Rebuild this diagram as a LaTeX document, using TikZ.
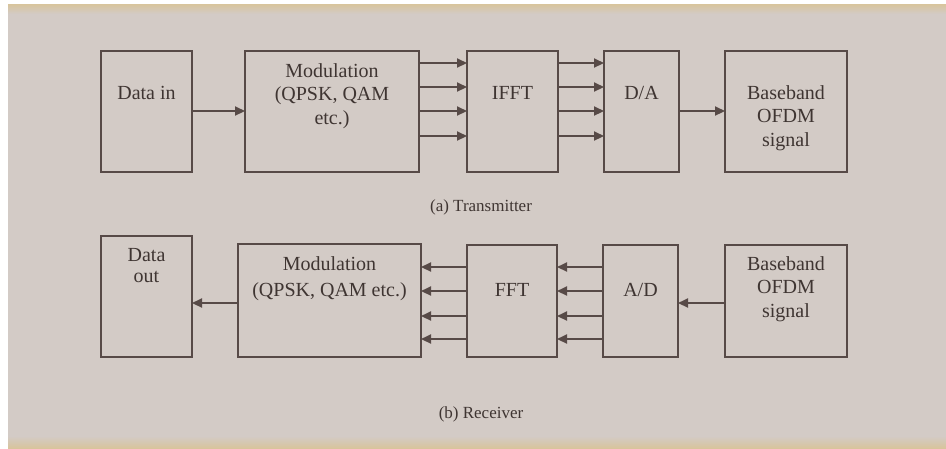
\documentclass[tikz,border=0pt]{standalone}
\usepackage{fontspec}
\setmainfont{Liberation Serif}
\usetikzlibrary{arrows.meta}
\definecolor{bgc}{HTML}{D3CBC6}
\definecolor{linec}{HTML}{574A47}
\definecolor{textc}{HTML}{3F3532}
\definecolor{beige}{HTML}{D8C49C}
\begin{document}
\begin{tikzpicture}[x=1pt,y=-1pt,
  blk/.style={draw=linec, line width=2.2pt, inner sep=0pt, outer sep=0pt, rectangle},
  lbl/.style={text=textc, font=\fontsize{20}{23.5}\selectfont, align=center, inner sep=0pt},
  captxt/.style={text=textc, font=\fontsize{17}{20}\selectfont, inner sep=0pt},
  arr/.style={draw=linec, line width=2.2pt, -{Triangle[length=10pt,width=9pt]}}]
\useasboundingbox (0,0) rectangle (946,448);
% background
\fill[bgc] (0,0) rectangle (946,448);
\fill[white] (0,0) rectangle (946,4);
\fill[white] (0,0) rectangle (8,448);
\shade[top color=beige, bottom color=bgc] (8,4) rectangle (946,14);
\shade[top color=bgc, bottom color=beige] (8,436) rectangle (946,448);
% transmitter boxes
\node[blk, minimum width=91pt, minimum height=121pt] (tdin) at (146.5,111.5) {};
\node[blk, minimum width=174pt, minimum height=121pt] (tmod) at (332,111.5) {};
\node[blk, minimum width=91pt, minimum height=121pt] (tifft) at (512.5,111.5) {};
\node[blk, minimum width=75pt, minimum height=121pt] (tda) at (641.5,111.5) {};
\node[blk, minimum width=122pt, minimum height=121pt] (tbb) at (786,111.5) {};
% transmitter labels
\node[lbl] (tdinl) at (146.5,93) {Data in};
\node[lbl] (tmodl) at (332,96) {Modulation\\(QPSK, QAM\\etc.)};
\node[lbl] (tiffl) at (512.5,93) {IFFT};
\node[lbl] (tdal) at (641.5,93) {D/A};
\node[lbl] (tbbl) at (786,118) {Baseband\\OFDM\\signal};
% transmitter arrows
\draw[arr] (tdin.east |- 0,111) -- (tmod.west |- 0,111);
\foreach \yy in {63,87,111,136}{
  \draw[arr] (tmod.east |- 0,\yy) -- (tifft.west |- 0,\yy);
  \draw[arr] (tifft.east |- 0,\yy) -- (tda.west |- 0,\yy);
}
\draw[arr] (tda.east |- 0,111) -- (tbb.west |- 0,111);
\node[captxt] (capa) at (481,207) {(a) Transmitter};
% receiver boxes
\node[blk, minimum width=91pt, minimum height=121pt] (rdout) at (146.5,296.5) {};
\node[blk, minimum width=183pt, minimum height=113pt] (rmod) at (329.5,300.5) {};
\node[blk, minimum width=90pt, minimum height=112pt] (rfft) at (512,301) {};
\node[blk, minimum width=75pt, minimum height=112pt] (rad) at (640.5,301) {};
\node[blk, minimum width=122pt, minimum height=112pt] (rbb) at (786,301) {};
% receiver labels
\node[lbl, font=\fontsize{20}{21}\selectfont] (rdoutl) at (146.5,266) {Data\\out};
\node[lbl, font=\fontsize{20}{26}\selectfont] (rmodl) at (329.5,279) {Modulation\\(QPSK, QAM etc.)};
\node[lbl] (rfftl) at (512,290) {FFT};
\node[lbl] (radl) at (640.5,290) {A/D};
\node[lbl] (rbbl) at (786,289) {Baseband\\OFDM\\signal};
% receiver arrows
\draw[arr] (rmod.west |- 0,303) -- (rdout.east |- 0,303);
\foreach \yy in {267,291,316,339}{
  \draw[arr] (rfft.west |- 0,\yy) -- (rmod.east |- 0,\yy);
  \draw[arr] (rad.west |- 0,\yy) -- (rfft.east |- 0,\yy);
}
\draw[arr] (rbb.west |- 0,303) -- (rad.east |- 0,303);
\node[captxt] (capb) at (481,414) {(b) Receiver};
\end{tikzpicture}
\end{document}
